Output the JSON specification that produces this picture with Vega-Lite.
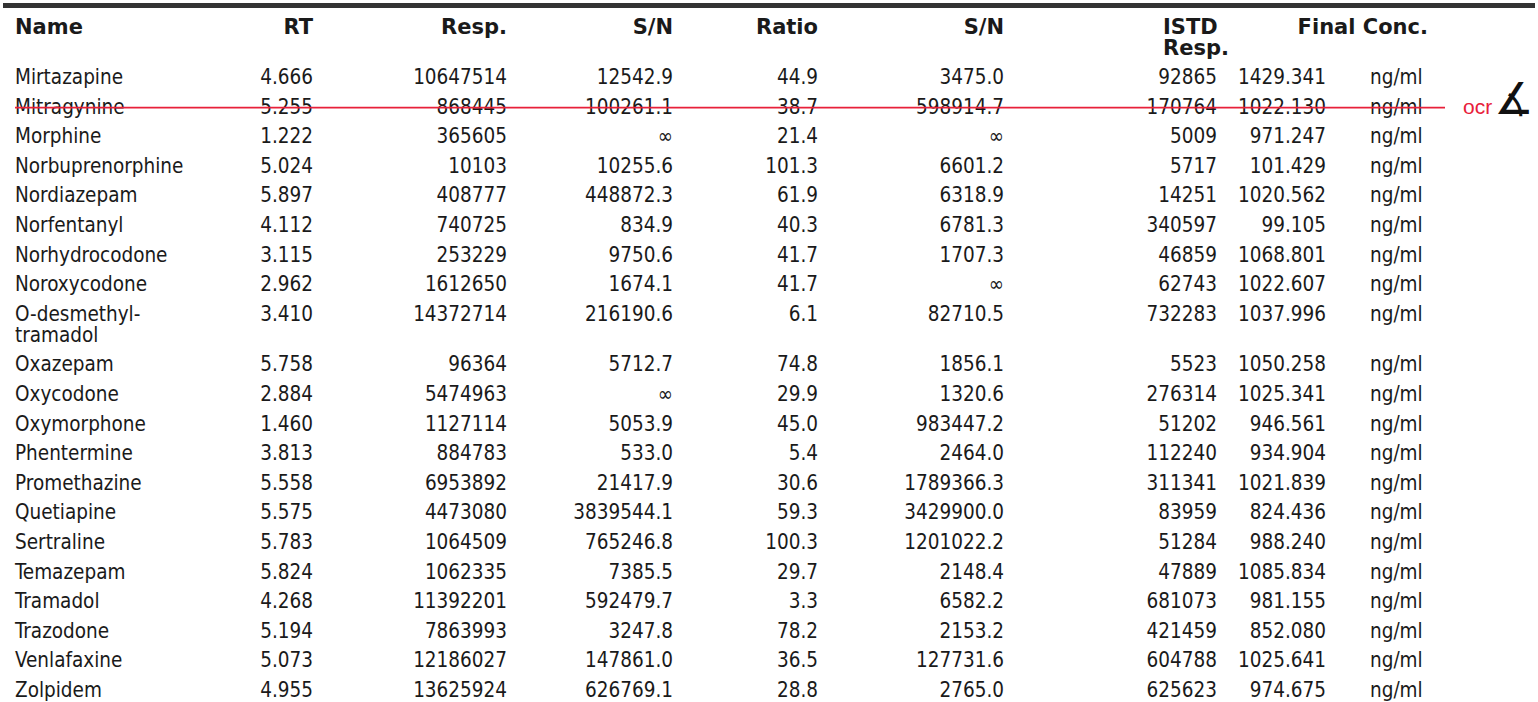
{
  "$schema": "https://vega.github.io/schema/vega-lite/v6.json",
  "width": 1538,
  "height": 702,
  "autosize": {"type": "fit", "contains": "padding"},
  "padding": 0,
  "background": "white",
  "config": {
    "view": {"stroke": null},
    "text": {"font": "DejaVu Sans Condensed", "fontSize": 20.5, "color": "#1a1a1a", "baseline": "alphabetic"}
  },
  "datasets": {
    "rows": [
      {"row": 0, "Name": "Mirtazapine", "RT": "4.666", "Resp": "10647514", "SN1": "12542.9", "Ratio": "44.9", "SN2": "3475.0", "ISTD": "92865", "Final": "1429.341", "Unit": "ng/ml"},
      {"row": 1, "Name": "Mitragynine", "RT": "5.255", "Resp": "868445", "SN1": "100261.1", "Ratio": "38.7", "SN2": "598914.7", "ISTD": "170764", "Final": "1022.130", "Unit": "ng/ml"},
      {"row": 2, "Name": "Morphine", "RT": "1.222", "Resp": "365605", "SN1": "∞", "Ratio": "21.4", "SN2": "∞", "ISTD": "5009", "Final": "971.247", "Unit": "ng/ml"},
      {"row": 3, "Name": "Norbuprenorphine", "RT": "5.024", "Resp": "10103", "SN1": "10255.6", "Ratio": "101.3", "SN2": "6601.2", "ISTD": "5717", "Final": "101.429", "Unit": "ng/ml"},
      {"row": 4, "Name": "Nordiazepam", "RT": "5.897", "Resp": "408777", "SN1": "448872.3", "Ratio": "61.9", "SN2": "6318.9", "ISTD": "14251", "Final": "1020.562", "Unit": "ng/ml"},
      {"row": 5, "Name": "Norfentanyl", "RT": "4.112", "Resp": "740725", "SN1": "834.9", "Ratio": "40.3", "SN2": "6781.3", "ISTD": "340597", "Final": "99.105", "Unit": "ng/ml"},
      {"row": 6, "Name": "Norhydrocodone", "RT": "3.115", "Resp": "253229", "SN1": "9750.6", "Ratio": "41.7", "SN2": "1707.3", "ISTD": "46859", "Final": "1068.801", "Unit": "ng/ml"},
      {"row": 7, "Name": "Noroxycodone", "RT": "2.962", "Resp": "1612650", "SN1": "1674.1", "Ratio": "41.7", "SN2": "∞", "ISTD": "62743", "Final": "1022.607", "Unit": "ng/ml"},
      {"row": 8, "Name": "O-desmethyl-\ntramadol", "RT": "3.410", "Resp": "14372714", "SN1": "216190.6", "Ratio": "6.1", "SN2": "82710.5", "ISTD": "732283", "Final": "1037.996", "Unit": "ng/ml"},
      {"row": 9, "Name": "Oxazepam", "RT": "5.758", "Resp": "96364", "SN1": "5712.7", "Ratio": "74.8", "SN2": "1856.1", "ISTD": "5523", "Final": "1050.258", "Unit": "ng/ml"},
      {"row": 10, "Name": "Oxycodone", "RT": "2.884", "Resp": "5474963", "SN1": "∞", "Ratio": "29.9", "SN2": "1320.6", "ISTD": "276314", "Final": "1025.341", "Unit": "ng/ml"},
      {"row": 11, "Name": "Oxymorphone", "RT": "1.460", "Resp": "1127114", "SN1": "5053.9", "Ratio": "45.0", "SN2": "983447.2", "ISTD": "51202", "Final": "946.561", "Unit": "ng/ml"},
      {"row": 12, "Name": "Phentermine", "RT": "3.813", "Resp": "884783", "SN1": "533.0", "Ratio": "5.4", "SN2": "2464.0", "ISTD": "112240", "Final": "934.904", "Unit": "ng/ml"},
      {"row": 13, "Name": "Promethazine", "RT": "5.558", "Resp": "6953892", "SN1": "21417.9", "Ratio": "30.6", "SN2": "1789366.3", "ISTD": "311341", "Final": "1021.839", "Unit": "ng/ml"},
      {"row": 14, "Name": "Quetiapine", "RT": "5.575", "Resp": "4473080", "SN1": "3839544.1", "Ratio": "59.3", "SN2": "3429900.0", "ISTD": "83959", "Final": "824.436", "Unit": "ng/ml"},
      {"row": 15, "Name": "Sertraline", "RT": "5.783", "Resp": "1064509", "SN1": "765246.8", "Ratio": "100.3", "SN2": "1201022.2", "ISTD": "51284", "Final": "988.240", "Unit": "ng/ml"},
      {"row": 16, "Name": "Temazepam", "RT": "5.824", "Resp": "1062335", "SN1": "7385.5", "Ratio": "29.7", "SN2": "2148.4", "ISTD": "47889", "Final": "1085.834", "Unit": "ng/ml"},
      {"row": 17, "Name": "Tramadol", "RT": "4.268", "Resp": "11392201", "SN1": "592479.7", "Ratio": "3.3", "SN2": "6582.2", "ISTD": "681073", "Final": "981.155", "Unit": "ng/ml"},
      {"row": 18, "Name": "Trazodone", "RT": "5.194", "Resp": "7863993", "SN1": "3247.8", "Ratio": "78.2", "SN2": "2153.2", "ISTD": "421459", "Final": "852.080", "Unit": "ng/ml"},
      {"row": 19, "Name": "Venlafaxine", "RT": "5.073", "Resp": "12186027", "SN1": "147861.0", "Ratio": "36.5", "SN2": "127731.6", "ISTD": "604788", "Final": "1025.641", "Unit": "ng/ml"},
      {"row": 20, "Name": "Zolpidem", "RT": "4.955", "Resp": "13625924", "SN1": "626769.1", "Ratio": "28.8", "SN2": "2765.0", "ISTD": "625623", "Final": "974.675", "Unit": "ng/ml"}
    ],
    "headers": [
      {"col": 0, "label": "Name"},
      {"col": 1, "label": "RT"},
      {"col": 2, "label": "Resp."},
      {"col": 3, "label": "S/N"},
      {"col": 4, "label": "Ratio"},
      {"col": 5, "label": "S/N"},
      {"col": 6, "label": "ISTD\nResp."},
      {"col": 7, "label": "Final Conc."}
    ],
    "notes": [{"row": 1, "note": "ocr", "sign": "∡"}]
  },
  "data": {"name": "rows"},
  "layer": [
    {
      "data": {"values": [{}]},
      "mark": {"type": "rule", "color": "#333333", "strokeWidth": 5},
      "encoding": {
        "y": {"datum": -2, "type": "quantitative", "scale": {"type": "linear", "domain": [-2, -1, 0, 8, 9, 20], "range": [5.5, 34, 84, 320.8, 371.4, 697], "zero": false, "nice": false}, "axis": null}
      }
    },
    {
      "data": {"name": "headers"},
      "transform": [{"filter": "datum.col == 0"}],
      "mark": {"type": "text", "align": "left", "font": "DejaVu Sans", "fontWeight": "bold", "fontSize": 21, "lineBreak": "\n", "lineHeight": 21},
      "encoding": {
        "x": {"field": "col", "type": "quantitative", "scale": {"type": "linear", "domain": [0, 1, 2, 3, 4, 5, 6, 7, 8, 9, 10], "range": [12, 310, 504, 670, 815, 1001, 1214, 1323, 1367, 1460, 1511], "zero": false, "nice": false}, "axis": null},
        "y": {"datum": -1, "type": "quantitative", "scale": {"type": "linear", "domain": [-2, -1, 0, 8, 9, 20], "range": [5.5, 34, 84, 320.8, 371.4, 697], "zero": false, "nice": false}, "axis": null},
        "text": {"field": "label", "type": "nominal"}
      }
    },
    {
      "data": {"name": "headers"},
      "transform": [{"filter": "datum.col >= 1 && datum.col <= 5"}],
      "mark": {"type": "text", "align": "right", "font": "DejaVu Sans", "fontWeight": "bold", "fontSize": 21, "lineBreak": "\n", "lineHeight": 21},
      "encoding": {
        "x": {"field": "col", "type": "quantitative", "scale": {"type": "linear", "domain": [0, 1, 2, 3, 4, 5, 6, 7, 8, 9, 10], "range": [12, 310, 504, 670, 815, 1001, 1214, 1323, 1367, 1460, 1511], "zero": false, "nice": false}, "axis": null},
        "y": {"datum": -1, "type": "quantitative", "scale": {"type": "linear", "domain": [-2, -1, 0, 8, 9, 20], "range": [5.5, 34, 84, 320.8, 371.4, 697], "zero": false, "nice": false}, "axis": null},
        "text": {"field": "label", "type": "nominal"}
      }
    },
    {
      "data": {"name": "headers"},
      "transform": [{"filter": "datum.col == 6"}],
      "mark": {"type": "text", "align": "left", "dx": -54, "font": "DejaVu Sans", "fontWeight": "bold", "fontSize": 21, "lineBreak": "\n", "lineHeight": 21},
      "encoding": {
        "x": {"field": "col", "type": "quantitative", "scale": {"type": "linear", "domain": [0, 1, 2, 3, 4, 5, 6, 7, 8, 9, 10], "range": [12, 310, 504, 670, 815, 1001, 1214, 1323, 1367, 1460, 1511], "zero": false, "nice": false}, "axis": null},
        "y": {"datum": -1, "type": "quantitative", "scale": {"type": "linear", "domain": [-2, -1, 0, 8, 9, 20], "range": [5.5, 34, 84, 320.8, 371.4, 697], "zero": false, "nice": false}, "axis": null},
        "text": {"field": "label", "type": "nominal"}
      }
    },
    {
      "data": {"name": "headers"},
      "transform": [{"filter": "datum.col == 7"}],
      "mark": {"type": "text", "align": "right", "dx": 102, "font": "DejaVu Sans", "fontWeight": "bold", "fontSize": 21, "lineBreak": "\n", "lineHeight": 21},
      "encoding": {
        "x": {"field": "col", "type": "quantitative", "scale": {"type": "linear", "domain": [0, 1, 2, 3, 4, 5, 6, 7, 8, 9, 10], "range": [12, 310, 504, 670, 815, 1001, 1214, 1323, 1367, 1460, 1511], "zero": false, "nice": false}, "axis": null},
        "y": {"datum": -1, "type": "quantitative", "scale": {"type": "linear", "domain": [-2, -1, 0, 8, 9, 20], "range": [5.5, 34, 84, 320.8, 371.4, 697], "zero": false, "nice": false}, "axis": null},
        "text": {"field": "label", "type": "nominal"}
      }
    },
    {
      "mark": {"type": "text", "align": "left", "lineBreak": "\n", "lineHeight": 21},
      "encoding": {
        "x": {"datum": 0, "type": "quantitative", "scale": {"type": "linear", "domain": [0, 1, 2, 3, 4, 5, 6, 7, 8, 9, 10], "range": [12, 310, 504, 670, 815, 1001, 1214, 1323, 1367, 1460, 1511], "zero": false, "nice": false}, "axis": null},
        "y": {"field": "row", "type": "quantitative", "scale": {"type": "linear", "domain": [-2, -1, 0, 8, 9, 20], "range": [5.5, 34, 84, 320.8, 371.4, 697], "zero": false, "nice": false}, "axis": null},
        "text": {"field": "Name", "type": "nominal"}
      }
    },
    {
      "mark": {"type": "text", "align": "right"},
      "encoding": {
        "x": {"datum": 1, "type": "quantitative", "scale": {"type": "linear", "domain": [0, 1, 2, 3, 4, 5, 6, 7, 8, 9, 10], "range": [12, 310, 504, 670, 815, 1001, 1214, 1323, 1367, 1460, 1511], "zero": false, "nice": false}, "axis": null},
        "y": {"field": "row", "type": "quantitative", "scale": {"type": "linear", "domain": [-2, -1, 0, 8, 9, 20], "range": [5.5, 34, 84, 320.8, 371.4, 697], "zero": false, "nice": false}, "axis": null},
        "text": {"field": "RT", "type": "nominal"}
      }
    },
    {
      "mark": {"type": "text", "align": "right"},
      "encoding": {
        "x": {"datum": 2, "type": "quantitative", "scale": {"type": "linear", "domain": [0, 1, 2, 3, 4, 5, 6, 7, 8, 9, 10], "range": [12, 310, 504, 670, 815, 1001, 1214, 1323, 1367, 1460, 1511], "zero": false, "nice": false}, "axis": null},
        "y": {"field": "row", "type": "quantitative", "scale": {"type": "linear", "domain": [-2, -1, 0, 8, 9, 20], "range": [5.5, 34, 84, 320.8, 371.4, 697], "zero": false, "nice": false}, "axis": null},
        "text": {"field": "Resp", "type": "nominal"}
      }
    },
    {
      "mark": {"type": "text", "align": "right"},
      "encoding": {
        "x": {"datum": 3, "type": "quantitative", "scale": {"type": "linear", "domain": [0, 1, 2, 3, 4, 5, 6, 7, 8, 9, 10], "range": [12, 310, 504, 670, 815, 1001, 1214, 1323, 1367, 1460, 1511], "zero": false, "nice": false}, "axis": null},
        "y": {"field": "row", "type": "quantitative", "scale": {"type": "linear", "domain": [-2, -1, 0, 8, 9, 20], "range": [5.5, 34, 84, 320.8, 371.4, 697], "zero": false, "nice": false}, "axis": null},
        "text": {"field": "SN1", "type": "nominal"}
      }
    },
    {
      "mark": {"type": "text", "align": "right"},
      "encoding": {
        "x": {"datum": 4, "type": "quantitative", "scale": {"type": "linear", "domain": [0, 1, 2, 3, 4, 5, 6, 7, 8, 9, 10], "range": [12, 310, 504, 670, 815, 1001, 1214, 1323, 1367, 1460, 1511], "zero": false, "nice": false}, "axis": null},
        "y": {"field": "row", "type": "quantitative", "scale": {"type": "linear", "domain": [-2, -1, 0, 8, 9, 20], "range": [5.5, 34, 84, 320.8, 371.4, 697], "zero": false, "nice": false}, "axis": null},
        "text": {"field": "Ratio", "type": "nominal"}
      }
    },
    {
      "mark": {"type": "text", "align": "right"},
      "encoding": {
        "x": {"datum": 5, "type": "quantitative", "scale": {"type": "linear", "domain": [0, 1, 2, 3, 4, 5, 6, 7, 8, 9, 10], "range": [12, 310, 504, 670, 815, 1001, 1214, 1323, 1367, 1460, 1511], "zero": false, "nice": false}, "axis": null},
        "y": {"field": "row", "type": "quantitative", "scale": {"type": "linear", "domain": [-2, -1, 0, 8, 9, 20], "range": [5.5, 34, 84, 320.8, 371.4, 697], "zero": false, "nice": false}, "axis": null},
        "text": {"field": "SN2", "type": "nominal"}
      }
    },
    {
      "mark": {"type": "text", "align": "right"},
      "encoding": {
        "x": {"datum": 6, "type": "quantitative", "scale": {"type": "linear", "domain": [0, 1, 2, 3, 4, 5, 6, 7, 8, 9, 10], "range": [12, 310, 504, 670, 815, 1001, 1214, 1323, 1367, 1460, 1511], "zero": false, "nice": false}, "axis": null},
        "y": {"field": "row", "type": "quantitative", "scale": {"type": "linear", "domain": [-2, -1, 0, 8, 9, 20], "range": [5.5, 34, 84, 320.8, 371.4, 697], "zero": false, "nice": false}, "axis": null},
        "text": {"field": "ISTD", "type": "nominal"}
      }
    },
    {
      "mark": {"type": "text", "align": "right"},
      "encoding": {
        "x": {"datum": 7, "type": "quantitative", "scale": {"type": "linear", "domain": [0, 1, 2, 3, 4, 5, 6, 7, 8, 9, 10], "range": [12, 310, 504, 670, 815, 1001, 1214, 1323, 1367, 1460, 1511], "zero": false, "nice": false}, "axis": null},
        "y": {"field": "row", "type": "quantitative", "scale": {"type": "linear", "domain": [-2, -1, 0, 8, 9, 20], "range": [5.5, 34, 84, 320.8, 371.4, 697], "zero": false, "nice": false}, "axis": null},
        "text": {"field": "Final", "type": "nominal"}
      }
    },
    {
      "mark": {"type": "text", "align": "left"},
      "encoding": {
        "x": {"datum": 8, "type": "quantitative", "scale": {"type": "linear", "domain": [0, 1, 2, 3, 4, 5, 6, 7, 8, 9, 10], "range": [12, 310, 504, 670, 815, 1001, 1214, 1323, 1367, 1460, 1511], "zero": false, "nice": false}, "axis": null},
        "y": {"field": "row", "type": "quantitative", "scale": {"type": "linear", "domain": [-2, -1, 0, 8, 9, 20], "range": [5.5, 34, 84, 320.8, 371.4, 697], "zero": false, "nice": false}, "axis": null},
        "text": {"field": "Unit", "type": "nominal"}
      }
    },
    {
      "data": {"name": "notes"},
      "mark": {"type": "rule", "color": "#e8203a", "strokeWidth": 1.6, "yOffset": -6, "x2Offset": 75},
      "encoding": {
        "x": {"datum": 0, "type": "quantitative", "scale": {"type": "linear", "domain": [0, 1, 2, 3, 4, 5, 6, 7, 8, 9, 10], "range": [12, 310, 504, 670, 815, 1001, 1214, 1323, 1367, 1460, 1511], "zero": false, "nice": false}, "axis": null},
        "x2": {"datum": 8},
        "y": {"field": "row", "type": "quantitative", "scale": {"type": "linear", "domain": [-2, -1, 0, 8, 9, 20], "range": [5.5, 34, 84, 320.8, 371.4, 697], "zero": false, "nice": false}, "axis": null}
      }
    },
    {
      "data": {"name": "notes"},
      "mark": {"type": "text", "align": "left", "color": "#e8203a", "font": "Liberation Sans", "fontSize": 21},
      "encoding": {
        "x": {"datum": 9, "type": "quantitative", "scale": {"type": "linear", "domain": [0, 1, 2, 3, 4, 5, 6, 7, 8, 9, 10], "range": [12, 310, 504, 670, 815, 1001, 1214, 1323, 1367, 1460, 1511], "zero": false, "nice": false}, "axis": null},
        "y": {"field": "row", "type": "quantitative", "scale": {"type": "linear", "domain": [-2, -1, 0, 8, 9, 20], "range": [5.5, 34, 84, 320.8, 371.4, 697], "zero": false, "nice": false}, "axis": null},
        "text": {"field": "note", "type": "nominal"}
      }
    },
    {
      "data": {"name": "notes"},
      "mark": {"type": "text", "align": "center", "color": "#111111", "font": "DejaVu Sans", "fontSize": 44, "dy": 0},
      "encoding": {
        "x": {"datum": 10, "type": "quantitative", "scale": {"type": "linear", "domain": [0, 1, 2, 3, 4, 5, 6, 7, 8, 9, 10], "range": [12, 310, 504, 670, 815, 1001, 1214, 1323, 1367, 1460, 1511], "zero": false, "nice": false}, "axis": null},
        "y": {"field": "row", "type": "quantitative", "scale": {"type": "linear", "domain": [-2, -1, 0, 8, 9, 20], "range": [5.5, 34, 84, 320.8, 371.4, 697], "zero": false, "nice": false}, "axis": null},
        "text": {"field": "sign", "type": "nominal"}
      }
    }
  ]
}
